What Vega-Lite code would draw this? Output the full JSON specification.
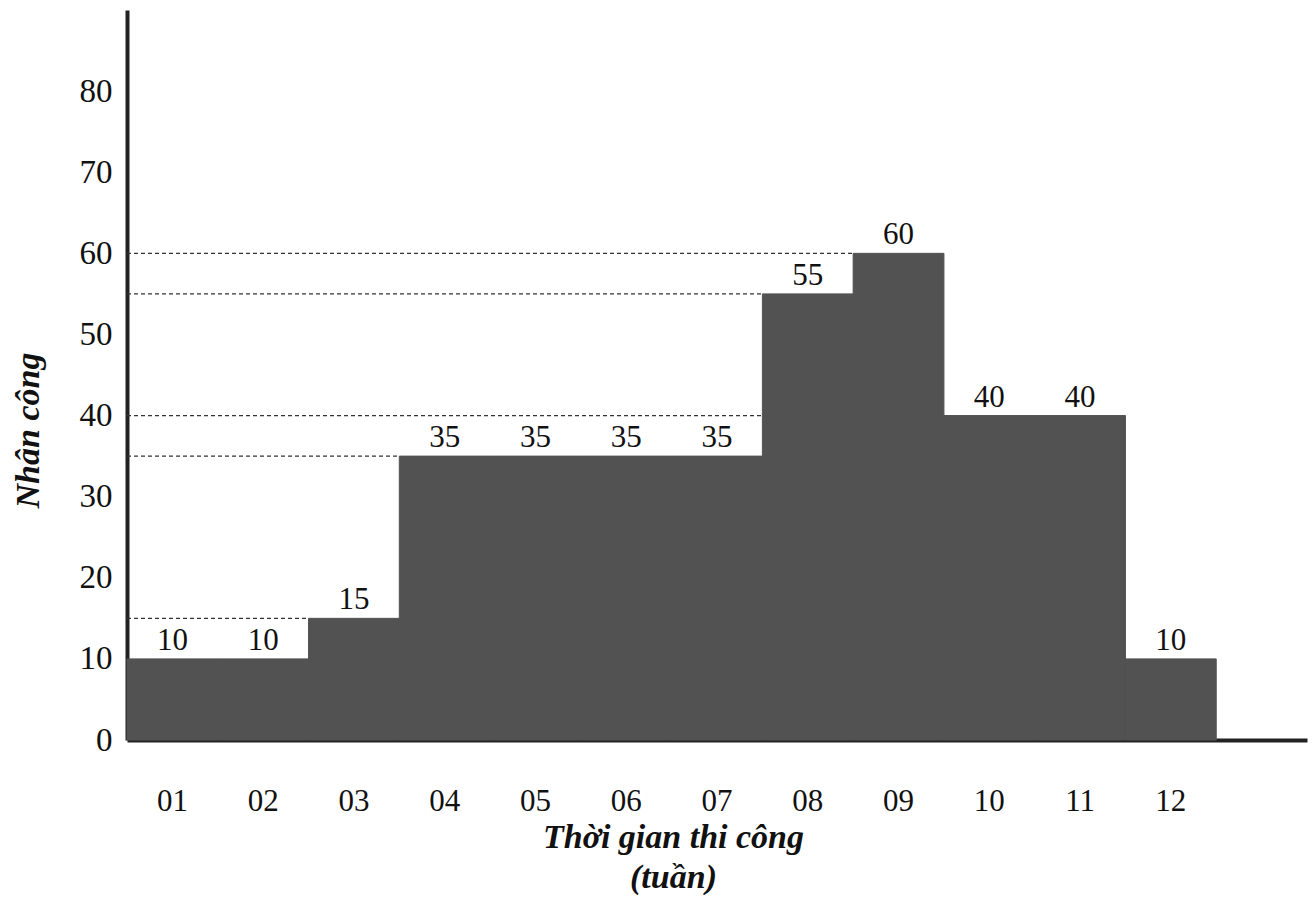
{
  "$schema": "https://vega.github.io/schema/vega-lite/v6.json",
  "width": 1180,
  "height": 730,
  "autosize": {"type": "none"},
  "padding": {"left": 127, "top": 10, "right": 5, "bottom": 177},
  "background": "white",
  "config": {"view": {"stroke": null}, "font": "Liberation Serif"},
  "datasets": {
    "weeks": [
      {"week": "01", "workers": 10},
      {"week": "02", "workers": 10},
      {"week": "03", "workers": 15},
      {"week": "04", "workers": 35},
      {"week": "05", "workers": 35},
      {"week": "06", "workers": 35},
      {"week": "07", "workers": 35},
      {"week": "08", "workers": 55},
      {"week": "09", "workers": 60},
      {"week": "10", "workers": 40},
      {"week": "11", "workers": 40},
      {"week": "12", "workers": 10}
    ],
    "guides": [
      {"level": 15, "from": "01", "to": "03"},
      {"level": 35, "from": "01", "to": "04"},
      {"level": 40, "from": "01", "to": "08"},
      {"level": 55, "from": "01", "to": "08"},
      {"level": 60, "from": "01", "to": "09"}
    ]
  },
  "layer": [
    {
      "data": {"name": "weeks"},
      "mark": {"type": "bar", "color": "#525252", "stroke": "#525252", "strokeWidth": 1},
      "encoding": {
        "x": {
          "field": "week", "type": "ordinal",
          "title": ["Thời gian thi công", "(tuần)"],
          "scale": {"type": "band", "domain": ["01","02","03","04","05","06","07","08","09","10","11","12","13"], "paddingInner": 0, "paddingOuter": 0},
          "axis": {
            "values": ["01","02","03","04","05","06","07","08","09","10","11","12"],
            "labelAngle": 0, "ticks": false, "grid": false,
            "domainWidth": 4, "domainColor": "#222222",
            "labelFontSize": 31, "labelColor": "#111111", "labelPadding": 46,
            "titleFontSize": 34, "titleFontStyle": "italic", "titleFontWeight": "bold",
            "titleColor": "#111111", "titleLineHeight": 40,
            "titleX": 546, "titleY": 80, "titleAlign": "center", "titleBaseline": "top"
          }
        },
        "y": {
          "field": "workers", "type": "quantitative",
          "title": "Nhân công",
          "scale": {"domain": [0, 90], "nice": false},
          "axis": {
            "values": [0, 10, 20, 30, 40, 50, 60, 70, 80],
            "ticks": false, "grid": false,
            "domainWidth": 4, "domainColor": "#222222",
            "labelFontSize": 33, "labelColor": "#111111", "labelPadding": 15,
            "titleFontSize": 34, "titleFontStyle": "italic", "titleFontWeight": "bold",
            "titleColor": "#111111",
            "titleX": -99, "titleY": 420, "titleAlign": "center", "titleBaseline": "middle", "titleAngle": -90
          }
        }
      }
    },
    {
      "data": {"name": "guides"},
      "mark": {"type": "rule", "strokeDash": [4, 3], "strokeWidth": 1.2, "color": "#333333"},
      "encoding": {
        "x": {"field": "from", "type": "ordinal", "bandPosition": 0, "title": ["Thời gian thi công", "(tuần)"]},
        "x2": {"field": "to", "bandPosition": 0},
        "y": {"field": "level", "type": "quantitative", "title": "Nhân công"}
      }
    },
    {
      "data": {"name": "weeks"},
      "mark": {"type": "text", "baseline": "alphabetic", "dy": -9, "fontSize": 31, "color": "#111111"},
      "encoding": {
        "x": {"field": "week", "type": "ordinal", "title": ["Thời gian thi công", "(tuần)"]},
        "y": {"field": "workers", "type": "quantitative", "title": "Nhân công"},
        "text": {"field": "workers", "type": "quantitative"}
      }
    }
  ]
}
